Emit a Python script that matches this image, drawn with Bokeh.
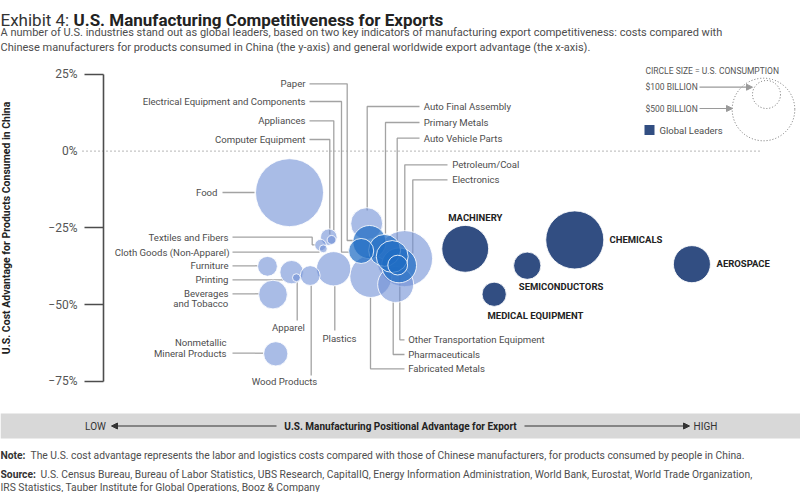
import math
from bokeh.plotting import figure
from bokeh.models import (ColumnDataSource, Range1d, LinearAxis, FixedTicker,
                          Label, BoxAnnotation, Arrow, NormalHead)
from bokeh.embed import file_html
from bokeh.resources import INLINE

# ----------------------------- data -----------------------------
industries = ["Food", "Textiles and Fibers", "Cloth Goods (Non-Apparel)", "Appliances",
              "Computer Equipment", "Furniture", "Printing", "Apparel", "Wood Products",
              "Beverages and Tobacco", "Nonmetallic Mineral Products", "Plastics",
              "Auto Final Assembly", "Fabricated Metals", "Pharmaceuticals", "Petroleum/Coal",
              "Paper", "Electrical Equipment and Components", "Primary Metals",
              "Auto Vehicle Parts", "Electronics", "Other Transportation Equipment",
              "Machinery", "Chemicals", "Semiconductors", "Medical Equipment", "Aerospace"]
# x: U.S. positional advantage for export (index, low -> high)
export_advantage = [27.0, 31.5, 31.9, 32.7, 33.1, 23.8, 27.3, 28.0, 30.0, 24.6, 25.0, 33.4,
                    38.2, 38.8, 42.4, 43.7,
                    38.6, 37.4, 40.8, 41.9, 42.9, 42.7,
                    52.5, 68.4, 61.5, 56.7, 85.4]
# y: U.S. cost advantage vs China (%)
cost_advantage = [-13.5, -30.6, -31.8, -28.0, -28.9, -37.5, -39.4, -41.2, -40.5, -46.7, -66.0, -38.3,
                  -23.6, -40.8, -43.4, -35.0,
                  -29.6, -32.5, -32.3, -34.3, -37.2, -37.1,
                  -31.8, -28.9, -37.3, -46.6, -36.8]
# circle size: U.S. consumption ($ billion)
consumption_bn = [590, 17, 8, 35, 10, 50, 70, 8, 50, 105, 75, 150,
                  130, 225, 165, 400,
                  140, 80, 130, 130, 155, 50,
                  280, 430, 95, 75, 175]
segment = ["other"] * 16 + ["core"] * 6 + ["leader"] * 5

y_ticks = [25, -25, -50, -75]
y_tick_labels = ["25%", "\u221225%", "\u221250%", "\u221275%"]
legend_values = [100, 500]
legend_labels = ["$100 BILLION", "$500 BILLION"]

# ----------------------------- layout -----------------------------
W, H = 800, 492
FONT = "Roboto"


def X(px):  # picture pixel -> export index
    return (px - 103) / 6.89


def Y(py):  # picture pixel -> cost advantage %
    return (150.7 - py) / 3.07


def bubble_size(v):
    return 2 * 1.4 * math.sqrt(v)


p = figure(width=W, height=H, output_backend="svg", toolbar_location=None, title=None,
           x_range=Range1d(X(0), X(W)), y_range=Range1d(Y(H), Y(0)),
           x_axis_location=None, y_axis_location=None, min_border=0,
           outline_line_color=None, background_fill_color="white", border_fill_color="white")
p.xgrid.visible = False
p.ygrid.visible = False

# y axis
yax = LinearAxis(fixed_location=0, bounds=(-75, 25), ticker=FixedTicker(ticks=y_ticks),
                 major_label_overrides={t: l for t, l in zip(y_ticks, y_tick_labels)},
                 axis_line_color="#4d4d4d", axis_line_width=1.6,
                 major_tick_out=19, major_tick_in=0, major_tick_line_color="#4d4d4d",
                 major_tick_line_width=1.6, minor_tick_line_color=None,
                 major_label_text_font=FONT, major_label_text_font_size="12px",
                 major_label_text_color="#555555", major_label_standoff=7,
                 axis_label="U.S. Cost Advantage for Products Consumed in China",
                 axis_label_text_font=FONT, axis_label_text_font_size="10.5px",
                 axis_label_text_font_style="bold", axis_label_text_color="#222222",
                 axis_label_standoff=32)
p.add_layout(yax, "left")
zax = LinearAxis(fixed_location=0, ticker=FixedTicker(ticks=[0]),
                 major_label_overrides={0: "0%"}, axis_line_color=None,
                 major_tick_out=19, major_tick_in=0, major_tick_line_color=None,
                 minor_tick_line_color=None,
                 major_label_text_font=FONT, major_label_text_font_size="12px",
                 major_label_text_color="#555555", major_label_standoff=7)
p.add_layout(zax, "left")

# zero reference line
p.line(x=[X(82), X(762)], y=[0, 0], line_color="#8a8a8a", line_width=1.2, line_dash="1 3")

# leader lines (picture px paths)
leaders = [
    [(309, 83.3), (346.7, 83.3), (346.7, 240), (353, 240)],
    [(309, 101), (341, 101), (341, 251.7), (348.5, 251.7)],
    [(309, 120.3), (333.3, 120.3), (333.3, 230)],
    [(309, 139), (329.3, 139), (329.3, 234)],
    [(222, 192), (254, 192)],
    [(232, 236.7), (311.7, 236.7), (311.7, 244.3), (315, 244.3)],
    [(232, 251.7), (319, 251.7)],
    [(232, 265.3), (257, 265.3)],
    [(232, 279.3), (283, 279.3)],
    [(232, 293.3), (258.5, 293.3)],
    [(232, 352.7), (262.5, 352.7)],
    [(296.7, 320), (296.7, 281)],
    [(310.7, 375), (310.7, 285)],
    [(334.3, 330), (334.3, 285.6)],
    [(419, 106), (366.7, 106), (366.7, 210)],
    [(419, 122), (385, 122), (385, 233)],
    [(419, 137.7), (396.7, 137.7), (396.7, 240)],
    [(447, 164.3), (404.3, 164.3), (404.3, 231)],
    [(447, 179.3), (412.3, 179.3), (412.3, 253)],
    [(404, 339.3), (399.3, 339.3), (399.3, 275)],
    [(404, 354), (392.7, 354), (392.7, 301)],
    [(404, 368.3), (370, 368.3), (370, 297)],
]
p.multi_line(xs=[[X(a) for a, b in path] for path in leaders],
             ys=[[Y(b) for a, b in path] for path in leaders],
             line_color="#a3a3a3", line_width=1.3)

# bubbles
styles = {
    "other": dict(fill_color="#6f8fd6", fill_alpha=0.6),
    "core": dict(fill_color="#1f6cc4", fill_alpha=0.72),
    "leader": dict(fill_color="#324e82", fill_alpha=1.0),
}
for seg in ["other", "core", "leader"]:
    idx = [i for i, s in enumerate(segment) if s == seg]
    idx.sort(key=lambda i: -consumption_bn[i])
    src = ColumnDataSource(dict(
        name=[industries[i] for i in idx],
        x=[export_advantage[i] for i in idx],
        y=[cost_advantage[i] for i in idx],
        size=[bubble_size(consumption_bn[i]) for i in idx],
    ))
    p.scatter("x", "y", size="size", source=src, line_color="white", line_width=1,
              line_alpha=0.85, **styles[seg])


def add_text(text, wx, wy, align="left", size="9.6px", bold=False, color="#4d4d4d",
             baseline="middle"):
    p.add_layout(Label(x=X(wx), y=Y(wy), text=text, text_align=align, text_baseline=baseline,
                       text_font=FONT, text_font_size=size,
                       text_font_style="bold" if bold else "normal", text_color=color))


# industry labels
for t, wx, wy in [("Paper", 305, 83.3), ("Electrical Equipment and Components", 305, 101),
                  ("Appliances", 305, 120.3), ("Computer Equipment", 305, 139),
                  ("Food", 217, 192), ("Textiles and Fibers", 228, 236.7),
                  ("Cloth Goods (Non-Apparel)", 229, 251.7), ("Furniture", 228, 265.3),
                  ("Printing", 228, 279.3), ("Beverages", 228, 293.3), ("and Tobacco", 228, 303.3),
                  ("Nonmetallic", 226, 341.7), ("Mineral Products", 226, 352.5)]:
    add_text(t, wx, wy, align="right")
for t, wx, wy in [("Auto Final Assembly", 423.3, 106), ("Primary Metals", 423.3, 122),
                  ("Auto Vehicle Parts", 423.3, 137.7), ("Petroleum/Coal", 451.7, 164.3),
                  ("Electronics", 451.7, 179.3), ("Other Transportation Equipment", 407.7, 339.3),
                  ("Pharmaceuticals", 407.7, 354), ("Fabricated Metals", 407.7, 368.3)]:
    add_text(t, wx, wy, align="left")
for t, wx, wy in [("Apparel", 288, 326.7), ("Plastics", 339, 338.3), ("Wood Products", 284, 381)]:
    add_text(t, wx, wy, align="center")
for t, wx, wy in [("MACHINERY", 447.7, 217), ("CHEMICALS", 609, 239.3), ("AEROSPACE", 716, 262.7),
                  ("SEMICONDUCTORS", 518.3, 286), ("MEDICAL EQUIPMENT", 487, 315)]:
    add_text(t, wx, wy, align="left", size="9.5px", bold=True, color="#222222")

# size legend
add_text("CIRCLE SIZE = U.S. CONSUMPTION", 645, 70.7, size="8.5px", color="#555555")
legend_pos = [(766, 94), (763, 109)]
arrow_y = [86.7, 108]
arrow_end = [752, 732]
lsrc = ColumnDataSource(dict(x=[X(a) for a, b in legend_pos], y=[Y(b) for a, b in legend_pos],
                             size=[bubble_size(v) for v in legend_values]))
p.scatter("x", "y", size="size", source=lsrc, fill_color=None, line_color="#6e6e6e",
          line_width=1, line_dash="1 2")
for lab, ay, ae in zip(legend_labels, arrow_y, arrow_end):
    add_text(lab, 645, ay, size="8.5px", color="#555555")
    p.add_layout(Arrow(x_start=X(699), y_start=Y(ay), x_end=X(ae), y_end=Y(ay),
                       line_color="#9a9a9a", line_width=1.2,
                       end=NormalHead(size=6, fill_color="#9a9a9a", line_color="#9a9a9a")))
p.add_layout(BoxAnnotation(left=X(644), right=X(654), top=Y(124.5), bottom=Y(134.5),
                           fill_color="#324e82", fill_alpha=1, line_color=None))
add_text("Global Leaders", 659, 129.5, size="9.5px", color="#4d4d4d")

# title and subtitle
add_text("Exhibit 4:", 0, 19, size="17px", color="#333333", baseline="alphabetic")
add_text("U.S. Manufacturing Competitiveness for Exports", 73, 19, size="17px", bold=True,
         color="#222222", baseline="alphabetic")
add_text("A number of U.S. industries stand out as global leaders, based on two key indicators of "
         "manufacturing export competitiveness: costs compared with", 0, 31.5, size="11px",
         color="#4d4d4d")
add_text("Chinese manufacturers for products consumed in China (the y-axis) and general worldwide "
         "export advantage (the x-axis).", 0, 47, size="11px", color="#4d4d4d")

# x-axis band
p.add_layout(BoxAnnotation(top=Y(413), bottom=Y(438), fill_color="#d8d8d8", fill_alpha=1,
                           line_color=None))
add_text("LOW", 95, 425.5, align="center", size="10px", color="#333333")
add_text("HIGH", 705, 425.5, align="center", size="10px", color="#333333")
add_text("U.S. Manufacturing Positional Advantage for Export", 400, 425.5, align="center",
         size="10px", bold=True, color="#222222")
for xs, xe in [(276, 111), (524, 689)]:
    p.add_layout(Arrow(x_start=X(xs), y_start=Y(425.5), x_end=X(xe), y_end=Y(425.5),
                       line_color="#333333", line_width=1,
                       end=NormalHead(size=6, fill_color="#333333", line_color="#333333")))

# notes
add_text("Note:", 0, 455, size="10.3px", bold=True, color="#333333")
add_text("The U.S. cost advantage represents the labor and logistics costs compared with those of "
         "Chinese manufacturers, for products consumed by people in China.", 30, 455,
         size="10.3px", color="#4d4d4d")
add_text("Source:", 0, 474, size="10.3px", bold=True, color="#333333")
add_text("U.S. Census Bureau, Bureau of Labor Statistics, UBS Research, CapitalIQ, Energy Information "
         "Administration, World Bank, Eurostat, World Trade Organization,", 40, 474,
         size="10.3px", color="#4d4d4d")
add_text("IRS Statistics, Tauber Institute for Global Operations, Booz & Company", 0, 486.5,
         size="10.3px", color="#4d4d4d")

open("out.html", "w").write(file_html(p, INLINE))
